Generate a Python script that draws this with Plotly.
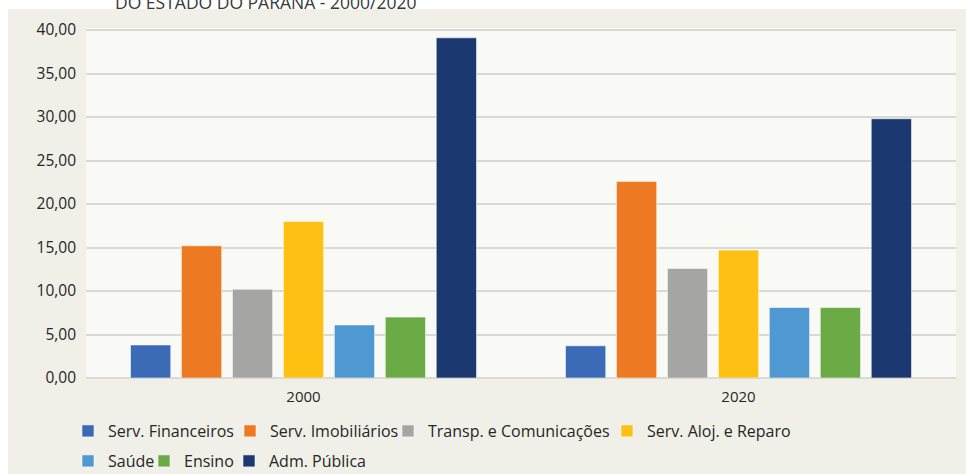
import plotly.graph_objects as go

# ---------------- data ----------------
years = ["2000", "2020"]
series_names = [
    "Serv. Financeiros",
    "Serv. Imobiliários",
    "Transp. e Comunicações",
    "Serv. Aloj. e Reparo",
    "Saúde",
    "Ensino",
    "Adm. Pública",
]
v_financeiros = [3.8, 3.7]
v_imobiliarios = [15.2, 22.6]
v_transp = [10.2, 12.6]
v_aloj = [18.0, 14.7]
v_saude = [6.1, 8.1]
v_ensino = [7.0, 8.1]
v_adm = [39.1, 29.8]
y_ticks = [0, 5, 10, 15, 20, 25, 30, 35, 40]
title_text = "DO ESTADO DO PARANÁ - 2000/2020"

series_values = [v_financeiros, v_imobiliarios, v_transp, v_aloj, v_saude, v_ensino, v_adm]

# ---------------- styles ----------------
colors = ["#3b6bb6", "#ed7a23", "#a5a5a4", "#fdc013", "#4f98d1", "#6aab45", "#1b3970"]
FONT = "Open Sans, Lato, DejaVu Sans, sans-serif"
TXT = "#262626"

W, H = 966, 474
ML, MR, MT, MB = 86, 10, 28, 96
PW, PH = W - ML - MR, H - MT - MB


def px_x(x):
    return (x - ML) / PW


def px_y(y):
    return (H - MB - y) / PH


# legend layout (pixel positions of each swatch, row centres)
legend_swatch_x = [86, 248, 406, 625, 86, 162, 247]
legend_row_y = [431, 431, 431, 431, 461, 461, 461]
SYM_OFFSET = 18

fig = go.Figure()
for i, (name, vals, col) in enumerate(zip(series_names, series_values, colors)):
    lg = "legend" if i == 0 else f"legend{i + 1}"
    fig.add_trace(
        go.Bar(
            x=years,
            y=vals,
            name=name,
            marker=dict(color=col, line=dict(color="rgba(255,255,255,0.55)", width=1)),
            legend=lg,
        )
    )

layout_legends = {}
for i in range(len(series_names)):
    key = "legend" if i == 0 else f"legend{i + 1}"
    layout_legends[key] = dict(
        orientation="h",
        x=px_x(legend_swatch_x[i] - SYM_OFFSET),
        xanchor="left",
        y=px_y(legend_row_y[i]),
        yanchor="middle",
        bgcolor="rgba(0,0,0,0)",
        borderwidth=0,
        font=dict(family=FONT, size=16, color=TXT),
    )

fig.update_layout(
    width=W,
    height=H,
    margin=dict(l=ML, r=MR, t=MT, b=MB, autoexpand=False),
    paper_bgcolor="#f1f0e8",
    plot_bgcolor="#f9f9f5",
    separators=",.",
    barmode="group",
    bargap=0.18,
    bargroupgap=0.21,
    showlegend=True,
    font=dict(family=FONT, color=TXT),
    **layout_legends,
)

fig.update_xaxes(
    type="category",
    showgrid=False,
    showline=False,
    zeroline=False,
    ticks="",
    tickfont=dict(family=FONT, size=15, color=TXT),
    ticklabelstandoff=8,
)
fig.update_yaxes(
    range=[0, 40.23],
    tickvals=y_ticks,
    tickformat=".2f",
    showgrid=True,
    gridcolor="#d9d9d6",
    gridwidth=1.5,
    zeroline=True,
    zerolinecolor="#d9d9d6",
    zerolinewidth=1.5,
    showline=False,
    ticks="",
    tickfont=dict(family=FONT, size=15.5, color=TXT),
    ticklabelstandoff=9,
)

# white margins outside the chart frame
fig.add_shape(type="rect", xref="paper", yref="paper",
              x0=px_x(-5), x1=px_x(8), y0=px_y(H + 5), y1=px_y(-5),
              fillcolor="white", line=dict(width=0), layer="above")
fig.add_shape(type="rect", xref="paper", yref="paper",
              x0=px_x(-5), x1=px_x(W + 5), y0=px_y(9), y1=px_y(-5),
              fillcolor="white", line=dict(width=0), layer="above")

# title above the frame (cut off by the top edge, as in the source image)
fig.add_annotation(
    text=title_text,
    xref="paper", yref="paper",
    x=px_x(113), y=px_y(1.5),
    xanchor="left", yanchor="middle",
    showarrow=False,
    font=dict(family=FONT, size=17.5, color="#3a3a3a"),
)

fig.write_html("out.html")
